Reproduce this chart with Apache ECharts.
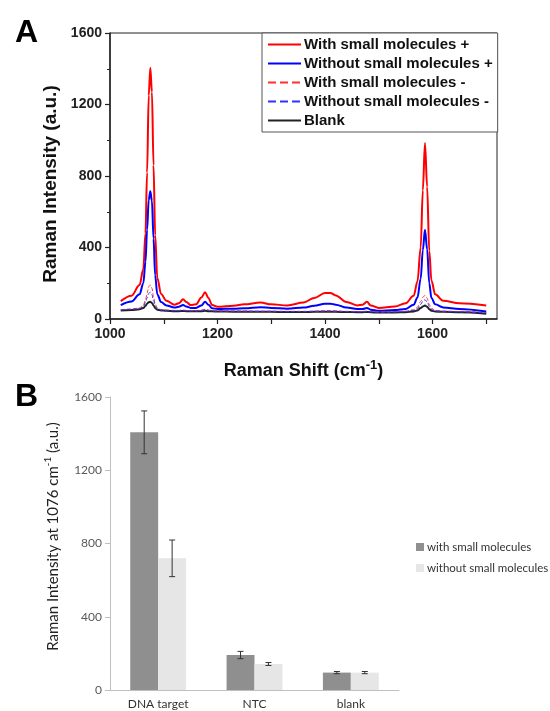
<!DOCTYPE html>
<html>
<head>
<meta charset="utf-8">
<script src="https://cdn.jsdelivr.net/npm/echarts@6/dist/echarts.min.js"></script>
<style>
  html, body { margin: 0; padding: 0; background: #fff; }
  #chart { width: 550px; height: 711px; }
</style>
</head>
<body>
<div id="chart"></div>
<script>
// Panel A: Raman spectra, shared shift axis (cm-1)
const shift = [1020, 1040, 1055, 1062, 1066, 1069, 1072, 1075, 1078, 1081, 1084, 1088, 1095, 1105, 1120, 1128, 1136, 1142, 1150, 1160, 1170, 1177, 1183, 1190, 1200, 1230, 1250, 1280, 1300, 1330, 1360, 1380, 1400, 1410, 1420, 1440, 1460, 1470, 1478, 1485, 1500, 1530, 1550, 1565, 1572, 1578, 1582, 1586, 1590, 1594, 1598, 1605, 1620, 1650, 1700]
const withPlus = [100, 130, 190, 280, 480, 820, 1250, 1405, 1270, 860, 470, 230, 140, 102, 80, 88, 110, 95, 78, 82, 120, 150, 118, 78, 68, 74, 82, 92, 82, 76, 92, 118, 145, 146, 132, 95, 76, 80, 96, 76, 62, 70, 88, 130, 210, 400, 720, 985, 740, 380, 215, 138, 102, 88, 75]
const withoutPlus = [78, 98, 138, 200, 320, 500, 665, 715, 660, 450, 245, 138, 95, 76, 64, 68, 78, 70, 62, 62, 76, 96, 80, 60, 56, 58, 60, 66, 62, 58, 64, 74, 85, 86, 80, 64, 56, 56, 62, 52, 46, 50, 56, 80, 120, 225, 385, 500, 390, 200, 118, 82, 64, 56, 42]
const withMinus = [52, 56, 62, 78, 105, 145, 182, 190, 172, 125, 84, 62, 52, 50, 48, 48, 50, 48, 47, 47, 50, 54, 50, 47, 46, 45, 45, 44, 44, 43, 43, 44, 46, 46, 45, 43, 42, 42, 44, 42, 40, 41, 44, 52, 66, 98, 122, 132, 116, 82, 60, 48, 44, 42, 36]
const withoutMinus = [50, 54, 58, 70, 92, 118, 143, 150, 136, 102, 72, 56, 50, 48, 46, 46, 48, 46, 45, 45, 47, 52, 48, 45, 44, 43, 43, 42, 42, 41, 41, 42, 44, 44, 43, 41, 40, 40, 42, 40, 38, 39, 41, 48, 58, 82, 99, 108, 96, 70, 53, 45, 42, 40, 34]
const blank = [48, 50, 54, 61, 74, 86, 94, 96, 90, 76, 61, 52, 48, 46, 44, 44, 45, 44, 43, 43, 44, 46, 44, 43, 42, 41, 41, 40, 40, 39, 39, 40, 41, 41, 40, 39, 38, 38, 39, 38, 36, 37, 38, 42, 48, 61, 70, 76, 68, 55, 46, 42, 40, 38, 30]

// Panel B: intensity at 1076 cm-1
const groups = ['DNA target', 'NTC', 'blank']
const withSmall = [1407, 191, 95]
const withSmallErr = [117, 20, 6]
const withoutSmall = [719, 142, 95]
const withoutSmallErr = [100, 8, 6]

const fontA = 'Liberation Sans, Arial, sans-serif'
const fontB = 'Lato, Open Sans, sans-serif'

function pairs (ys) {
  return shift.map((x, i) => [x, ys[i]])
}

function spectrum (name, ys, color, type) {
  return {
    name: name,
    type: 'line',
    xAxisIndex: 0,
    yAxisIndex: 0,
    data: pairs(ys),
    showSymbol: false,
    symbol: 'none',
    smooth: 0.35,
    smoothMonotone: 'x',
    lineStyle: { color: color, width: type === 'dashed' ? 1 : 2, type: type },
    itemStyle: { color: color },
    z: type === 'dashed' ? 3 : 2
  }
}

// error bars drawn on top of the grouped bars
function errorBars (vals, errs, side) {
  return {
    type: 'custom',
    xAxisIndex: 1,
    yAxisIndex: 1,
    data: vals.map((v, i) => [i, v - errs[i], v + errs[i]]),
    z: 10,
    renderItem: function (params, api) {
      const band = api.size([1, 0])[0]
      const off = side * band * 0.29 / 2
      const lo = api.coord([api.value(0), api.value(1)])
      const hi = api.coord([api.value(0), api.value(2)])
      const x = lo[0] + off
      const cap = 3
      const style = { stroke: '#333', lineWidth: 1 }
      return {
        type: 'group',
        children: [
          { type: 'line', shape: { x1: x, y1: lo[1], x2: x, y2: hi[1] }, style: style },
          { type: 'line', shape: { x1: x - cap, y1: lo[1], x2: x + cap, y2: lo[1] }, style: style },
          { type: 'line', shape: { x1: x - cap, y1: hi[1], x2: x + cap, y2: hi[1] }, style: style }
        ]
      }
    }
  }
}

const chart = echarts.init(document.getElementById('chart'))
chart.setOption({
  animation: false,
  title: [
    { text: 'A', left: 10, top: 12, textStyle: { fontSize: 32, fontWeight: 'bold', color: '#000', fontFamily: fontA } },
    { text: 'B', left: 10, top: 376, textStyle: { fontSize: 32, fontWeight: 'bold', color: '#000', fontFamily: fontA } }
  ],
  grid: [
    { left: 110, top: 33, right: 53, bottom: 392, show: true, borderColor: '#222', borderWidth: 1 },
    { left: 110, top: 397, right: 151, bottom: 21 }
  ],
  legend: [
    {
      data: ['With small molecules +', 'Without small molecules +', 'With small molecules -', 'Without small molecules -', 'Blank'],
      orient: 'vertical',
      left: 262,
      top: 33,
      padding: [4, 5, 4, 5],
      itemGap: 4,
      itemWidth: 33,
      itemHeight: 15,
      borderColor: '#555',
      borderWidth: 1,
      backgroundColor: '#fff',
      itemStyle: { opacity: 0 },
      textStyle: { fontSize: 15, fontWeight: 'bold', color: '#111', fontFamily: fontA, padding: [0, 0, 0, -2] }
    },
    {
      data: ['with small molecules', 'without small molecules'],
      orient: 'vertical',
      left: 411,
      top: 536,
      itemGap: 9,
      itemWidth: 8,
      itemHeight: 8,
      icon: 'rect',
      textStyle: { fontSize: 11.5, color: '#333', fontFamily: fontB, padding: [0, 0, 0, -2] }
    }
  ],
  xAxis: [
    {
      type: 'value',
      gridIndex: 0,
      min: 1000,
      max: 1720,
      interval: 100,
      splitLine: { show: false },
      axisLine: { lineStyle: { color: '#222', width: 1.5 } },
      axisTick: { lineStyle: { color: '#222', width: 1.2 }, length: 5 },
      axisLabel: {
        fontSize: 14,
        fontWeight: 'bold',
        color: '#222',
        fontFamily: fontA,
        showMaxLabel: false,
        formatter: v => (v % 200 === 0 ? String(v) : '')
      },
      name: 'Raman Shift (cm{sup|-1})',
      nameLocation: 'middle',
      nameGap: 40,
      nameTextStyle: {
        fontSize: 18,
        fontWeight: 'bold',
        color: '#111',
        fontFamily: fontA,
        lineHeight: 24,
        rich: {
          sup: { fontSize: 13, fontWeight: 'bold', color: '#111', fontFamily: fontA, verticalAlign: 'top', lineHeight: 14 }
        }
      }
    },
    {
      type: 'category',
      gridIndex: 1,
      data: groups,
      axisLine: { lineStyle: { color: '#bfbfbf' } },
      axisTick: { lineStyle: { color: '#bfbfbf' }, length: 5 },
      axisLabel: { fontSize: 12, color: '#333', fontFamily: fontB, margin: 8 }
    }
  ],
  yAxis: [
    {
      type: 'value',
      gridIndex: 0,
      min: 0,
      max: 1600,
      interval: 400,
      splitLine: { show: false },
      minorTick: { show: true, splitNumber: 2, length: 3, lineStyle: { color: '#222' } },
      axisLine: { show: true, lineStyle: { color: '#222', width: 1.5 } },
      axisTick: { show: true, lineStyle: { color: '#222', width: 1.2 }, length: 5 },
      axisLabel: { fontSize: 14, fontWeight: 'bold', color: '#222', fontFamily: fontA, formatter: v => String(v) },
      name: 'Raman Intensity (a.u.)',
      nameLocation: 'middle',
      nameGap: 50,
      nameTextStyle: { fontSize: 19, fontWeight: 'bold', color: '#111', fontFamily: fontA, padding: [0, 16, 0, 0] }
    },
    {
      type: 'value',
      gridIndex: 1,
      min: 0,
      max: 1600,
      interval: 400,
      splitLine: { show: false },
      axisLine: { show: true, lineStyle: { color: '#bfbfbf' } },
      axisTick: { show: true, lineStyle: { color: '#bfbfbf' }, length: 5 },
      axisLabel: { fontSize: 12, color: '#595959', fontFamily: fontB, formatter: v => String(v) },
      name: 'Raman Intensity at 1076 cm{sup|-1} (a.u.)',
      nameLocation: 'middle',
      nameGap: 34,
      nameTextStyle: {
        fontSize: 15,
        color: '#222',
        fontFamily: fontB,
        lineHeight: 20,
        padding: [0, 0, 0, 14],
        rich: {
          sup: { fontSize: 10, color: '#222', fontFamily: fontB, verticalAlign: 'top', lineHeight: 12 }
        }
      }
    }
  ],
  series: [
    spectrum('With small molecules +', withPlus, '#ff0000', 'solid'),
    spectrum('Without small molecules +', withoutPlus, '#0000ff', 'solid'),
    spectrum('With small molecules -', withMinus, '#ff3030', 'dashed'),
    spectrum('Without small molecules -', withoutMinus, '#3030ff', 'dashed'),
    spectrum('Blank', blank, '#222222', 'solid'),
    {
      name: 'with small molecules',
      type: 'bar',
      xAxisIndex: 1,
      yAxisIndex: 1,
      data: withSmall,
      barGap: '0%',
      barCategoryGap: '42%',
      itemStyle: { color: '#8f8f8f' }
    },
    {
      name: 'without small molecules',
      type: 'bar',
      xAxisIndex: 1,
      yAxisIndex: 1,
      data: withoutSmall,
      barGap: '0%',
      barCategoryGap: '42%',
      itemStyle: { color: '#e6e6e6' }
    },
    errorBars(withSmall, withSmallErr, -1),
    errorBars(withoutSmall, withoutSmallErr, 1)
  ]
})
</script>
</body>
</html>
